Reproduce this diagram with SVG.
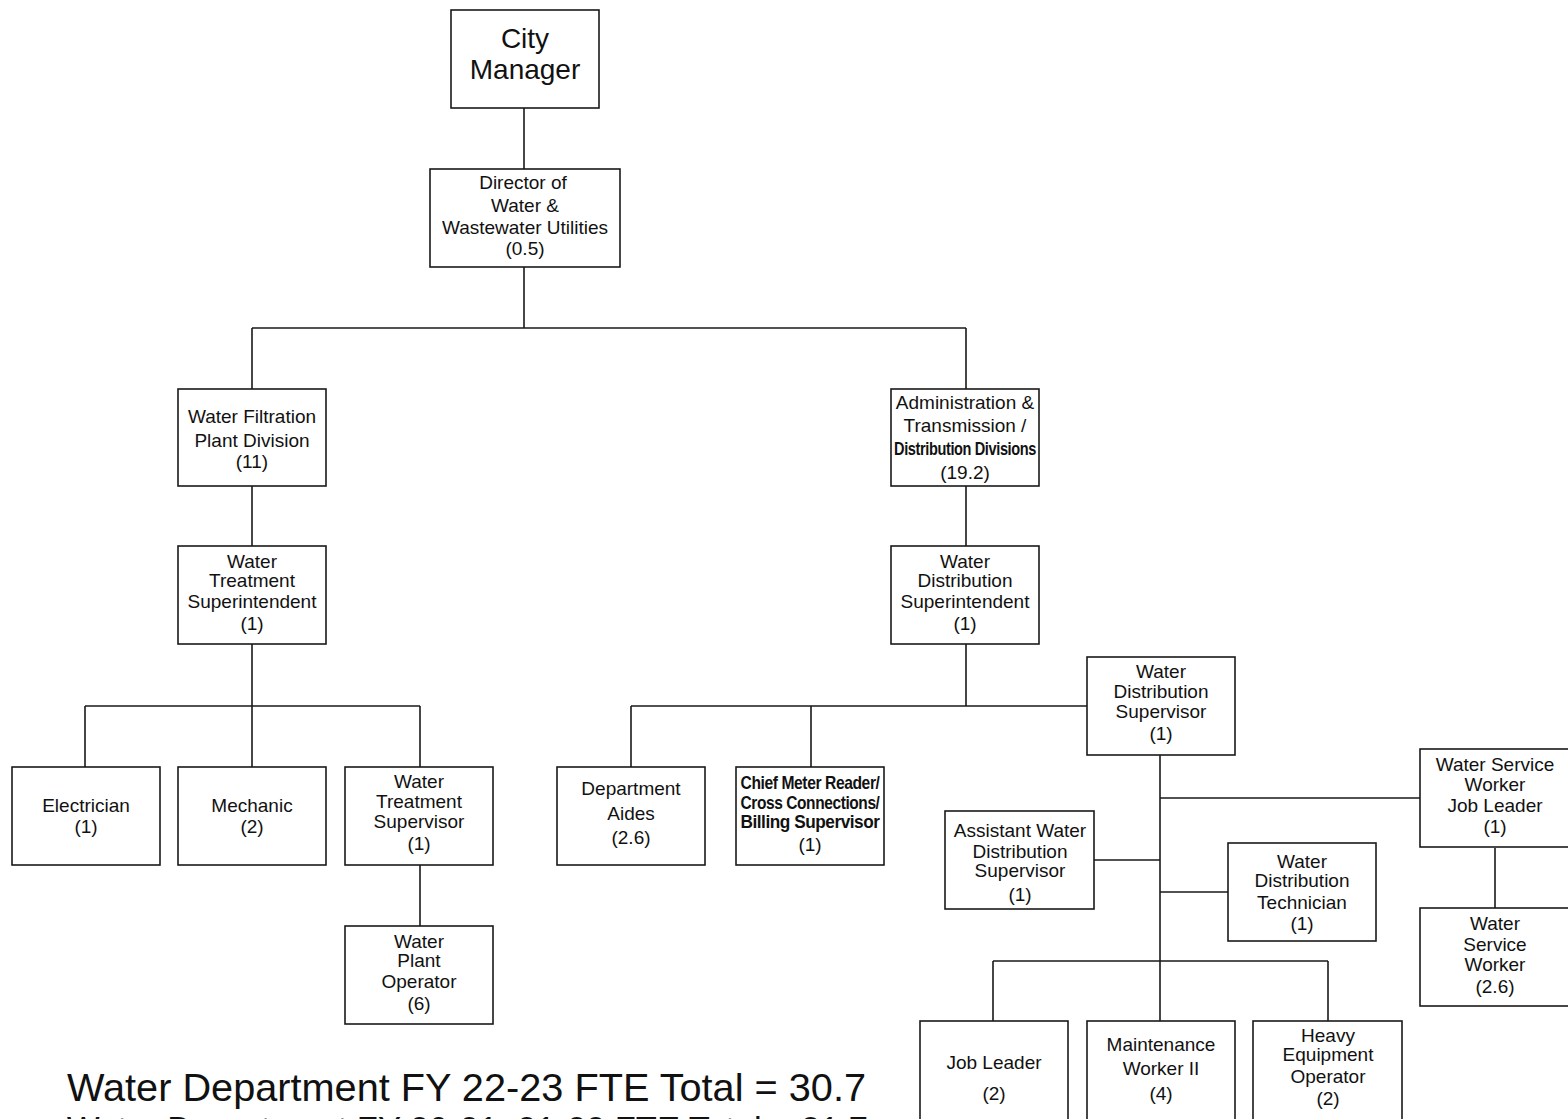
<svg xmlns="http://www.w3.org/2000/svg" width="1568" height="1119" viewBox="0 0 1568 1119">
  <style>
    .box { fill: #ffffff; stroke: #1a1a1a; stroke-width: 1.6; }
    .lbl { font-family: "Liberation Sans", Arial, sans-serif; font-size: 19px; fill: #111111; text-anchor: middle; }
    .big { font-size: 28px; }
    .cond { font-weight: bold; letter-spacing: -0.5px; }
    .link { fill: none; stroke: #1a1a1a; stroke-width: 1.6; }
    .foot { font-family: "Liberation Sans", Arial, sans-serif; font-size: 39px; fill: #111111; }
  </style>
  <rect x="0" y="0" width="1568" height="1119" fill="#ffffff"/>

  <!-- reporting lines -->
  <g id="connectors">
    <path class="link" d="M524 108 V169 M524 267 V328 M252 328 H966 M252 328 V389 M966 328 V389"/>
    <path class="link" d="M252 486 V546 M966 486 V546"/>
    <path class="link" d="M252 644 V706 M85 706 H420 M85 706 V767 M252 706 V767 M420 706 V767 M420 865 V926"/>
    <path class="link" d="M966 644 V706 M631 706 H1087 M631 706 V767 M811 706 V767"/>
    <path class="link" d="M1160 755 V1021 M1160 798 H1420 M1094 860 H1160 M1160 892 H1228"/>
    <path class="link" d="M993 961 H1328 M993 961 V1021 M1328 961 V1021 M1495 848 V908"/>
  </g>

  <g id="city-manager">
    <rect class="box" x="451" y="10" width="148" height="98"/>
    <text class="lbl big" x="525" y="48">City</text>
    <text class="lbl big" x="525" y="79">Manager</text>
  </g>

  <g id="director">
    <rect class="box" x="430" y="169" width="190" height="98"/>
    <text class="lbl" x="523" y="189">Director of</text>
    <text class="lbl" x="525" y="212">Water &amp;</text>
    <text class="lbl" x="525" y="234">Wastewater Utilities</text>
    <text class="lbl" x="525" y="255">(0.5)</text>
  </g>

  <g id="filtration-plant">
    <rect class="box" x="178" y="389" width="148" height="97"/>
    <text class="lbl" x="252" y="423">Water Filtration</text>
    <text class="lbl" x="252" y="447">Plant Division</text>
    <text class="lbl" x="252" y="468">(11)</text>
  </g>

  <g id="admin-distribution">
    <rect class="box" x="891" y="389" width="148" height="97"/>
    <text class="lbl" x="965" y="409">Administration &amp;</text>
    <text class="lbl" x="965" y="432">Transmission /</text>
    <text class="lbl cond" x="965" y="455" textLength="142" lengthAdjust="spacingAndGlyphs">Distribution Divisions</text>
    <text class="lbl" x="965" y="479">(19.2)</text>
  </g>

  <g id="treatment-superintendent">
    <rect class="box" x="178" y="546" width="148" height="98"/>
    <text class="lbl" x="252" y="568">Water</text>
    <text class="lbl" x="252" y="587">Treatment</text>
    <text class="lbl" x="252" y="608">Superintendent</text>
    <text class="lbl" x="252" y="630">(1)</text>
  </g>

  <g id="distribution-superintendent">
    <rect class="box" x="891" y="546" width="148" height="98"/>
    <text class="lbl" x="965" y="568">Water</text>
    <text class="lbl" x="965" y="587">Distribution</text>
    <text class="lbl" x="965" y="608">Superintendent</text>
    <text class="lbl" x="965" y="630">(1)</text>
  </g>

  <g id="electrician">
    <rect class="box" x="12" y="767" width="148" height="98"/>
    <text class="lbl" x="86" y="812">Electrician</text>
    <text class="lbl" x="86" y="833">(1)</text>
  </g>

  <g id="mechanic">
    <rect class="box" x="178" y="767" width="148" height="98"/>
    <text class="lbl" x="252" y="812">Mechanic</text>
    <text class="lbl" x="252" y="833">(2)</text>
  </g>

  <g id="treatment-supervisor">
    <rect class="box" x="345" y="767" width="148" height="98"/>
    <text class="lbl" x="419" y="788">Water</text>
    <text class="lbl" x="419" y="808">Treatment</text>
    <text class="lbl" x="419" y="828">Supervisor</text>
    <text class="lbl" x="419" y="850">(1)</text>
  </g>

  <g id="plant-operator">
    <rect class="box" x="345" y="926" width="148" height="98"/>
    <text class="lbl" x="419" y="948">Water</text>
    <text class="lbl" x="419" y="967">Plant</text>
    <text class="lbl" x="419" y="988">Operator</text>
    <text class="lbl" x="419" y="1010">(6)</text>
  </g>

  <g id="department-aides">
    <rect class="box" x="557" y="767" width="148" height="98"/>
    <text class="lbl" x="631" y="795">Department</text>
    <text class="lbl" x="631" y="820">Aides</text>
    <text class="lbl" x="631" y="844">(2.6)</text>
  </g>

  <g id="chief-meter-reader">
    <rect class="box" x="736" y="767" width="148" height="98"/>
    <text class="lbl cond" x="810" y="789" textLength="139" lengthAdjust="spacingAndGlyphs">Chief Meter Reader/</text>
    <text class="lbl cond" x="810" y="809" textLength="139" lengthAdjust="spacingAndGlyphs">Cross Connections/</text>
    <text class="lbl cond" x="810" y="828" textLength="139" lengthAdjust="spacingAndGlyphs">Billing Supervisor</text>
    <text class="lbl" x="810" y="851">(1)</text>
  </g>

  <g id="distribution-supervisor">
    <rect class="box" x="1087" y="657" width="148" height="98"/>
    <text class="lbl" x="1161" y="678">Water</text>
    <text class="lbl" x="1161" y="698">Distribution</text>
    <text class="lbl" x="1161" y="718">Supervisor</text>
    <text class="lbl" x="1161" y="740">(1)</text>
  </g>

  <g id="service-worker-job-leader">
    <rect class="box" x="1420" y="749" width="150" height="98"/>
    <text class="lbl" x="1495" y="771">Water Service</text>
    <text class="lbl" x="1495" y="791">Worker</text>
    <text class="lbl" x="1495" y="812">Job Leader</text>
    <text class="lbl" x="1495" y="833">(1)</text>
  </g>

  <g id="service-worker">
    <rect class="box" x="1420" y="908" width="150" height="98"/>
    <text class="lbl" x="1495" y="930">Water</text>
    <text class="lbl" x="1495" y="951">Service</text>
    <text class="lbl" x="1495" y="971">Worker</text>
    <text class="lbl" x="1495" y="993">(2.6)</text>
  </g>

  <g id="assistant-supervisor">
    <rect class="box" x="945" y="811" width="149" height="98"/>
    <text class="lbl" x="1020" y="837">Assistant Water</text>
    <text class="lbl" x="1020" y="858">Distribution</text>
    <text class="lbl" x="1020" y="877">Supervisor</text>
    <text class="lbl" x="1020" y="901">(1)</text>
  </g>

  <g id="distribution-technician">
    <rect class="box" x="1228" y="843" width="148" height="98"/>
    <text class="lbl" x="1302" y="868">Water</text>
    <text class="lbl" x="1302" y="887">Distribution</text>
    <text class="lbl" x="1302" y="909">Technician</text>
    <text class="lbl" x="1302" y="930">(1)</text>
  </g>

  <g id="job-leader">
    <rect class="box" x="920" y="1021" width="148" height="110"/>
    <text class="lbl" x="994" y="1069">Job Leader</text>
    <text class="lbl" x="994" y="1100">(2)</text>
  </g>

  <g id="maintenance-worker">
    <rect class="box" x="1087" y="1021" width="148" height="110"/>
    <text class="lbl" x="1161" y="1051">Maintenance</text>
    <text class="lbl" x="1161" y="1075">Worker II</text>
    <text class="lbl" x="1161" y="1100">(4)</text>
  </g>

  <g id="equipment-operator">
    <rect class="box" x="1253" y="1021" width="149" height="110"/>
    <text class="lbl" x="1328" y="1042">Heavy</text>
    <text class="lbl" x="1328" y="1061">Equipment</text>
    <text class="lbl" x="1328" y="1083">Operator</text>
    <text class="lbl" x="1328" y="1105">(2)</text>
  </g>

  <!-- FTE totals -->
  <text class="foot" x="67" y="1101" textLength="799" lengthAdjust="spacingAndGlyphs">Water Department FY 22-23 FTE Total = 30.7</text>
  <text class="foot" x="67" y="1144" textLength="801" lengthAdjust="spacingAndGlyphs">Water Department FY 20-21, 21-22 FTE Total = 31.7</text>
</svg>
